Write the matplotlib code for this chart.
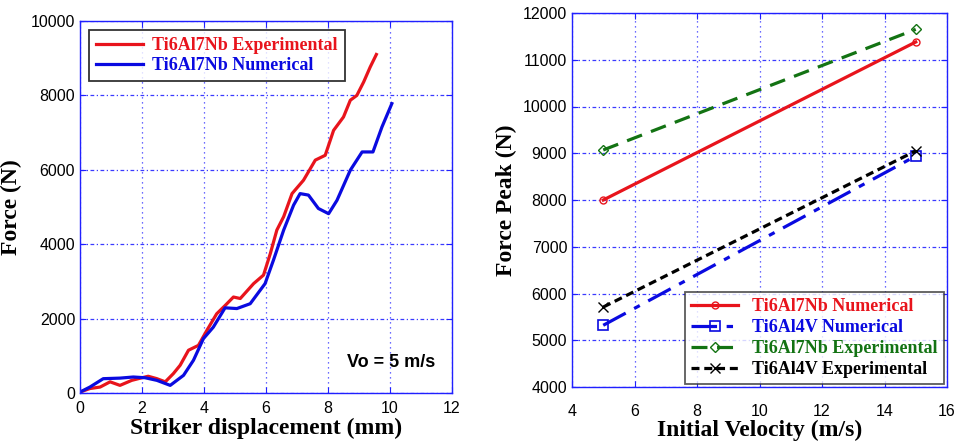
import numpy as np
import matplotlib.pyplot as plt

# left panel: force vs striker displacement (Vo = 5 m/s)
exp_x = [0, 0.32, 0.65, 0.97, 1.29, 1.67, 2.0, 2.2, 2.48, 2.75, 3.01, 3.23, 3.5, 3.82,
         4.09, 4.41, 4.68, 4.95, 5.17, 5.6, 5.92, 6.14, 6.35, 6.57, 6.84, 7.21, 7.59,
         7.91, 8.18, 8.5, 8.72, 8.93, 9.15, 9.36, 9.56]
exp_f = [25, 120, 160, 300, 205, 340, 410, 450, 385, 300, 520, 745, 1150, 1280,
         1680, 2130, 2350, 2580, 2540, 2940, 3170, 3750, 4380, 4740, 5360, 5720, 6260,
         6390, 7060, 7420, 7870, 8000, 8360, 8760, 9100]
num_x = [0, 0.32, 0.75, 1.29, 1.72, 2.1, 2.48, 2.91, 3.34, 3.66, 3.98, 4.3, 4.68, 5.06,
         5.49, 5.97, 6.24, 6.57, 6.89, 7.1, 7.37, 7.69, 8.02, 8.29, 8.72, 9.1, 9.45,
         9.74, 10.06]
num_f = [25, 160, 385, 400, 430, 410, 340, 205, 475, 880, 1460, 1770, 2290, 2270,
         2400, 2940, 3570, 4380, 5050, 5360, 5320, 4960, 4820, 5180, 5990, 6480, 6480,
         7150, 7780]

# right panel: peak force vs initial velocity
velocity = [5, 15]
al7nb_num = [8000, 11380]
al4v_num = [5320, 8940]
al7nb_exp = [9070, 11650]
al4v_exp = [5710, 9050]

serif = 'Liberation Serif'
sans = 'Liberation Sans'
gridc = '#3a3aff'

fig = plt.figure(figsize=(9.58, 4.46), dpi=100)
ax0 = fig.add_axes([80/958, 53/446, 372/958, 372/446])
ax1 = fig.add_axes([572/958, 59/446, 375/958, 374/446])


def style(ax, pad):
    for s in ax.spines.values():
        s.set_color('#2020ff')
        s.set_linewidth(1.0)
    ax.tick_params(direction='in', colors='#2020ff', labelcolor='black', length=4,
                   top=True, right=True)
    ax.tick_params(axis='x', pad=pad)
    for lab in ax.get_xticklabels() + ax.get_yticklabels():
        lab.set_fontfamily(sans)
        lab.set_fontsize(11.5)
    ax.xaxis.grid(True, color=gridc, linestyle=(0, (1, 3)), linewidth=0.9)
    ax.yaxis.grid(True, color=gridc, linestyle=(0, (3, 2, 1, 2)), linewidth=0.9)


ax0.plot(exp_x, exp_f, color='#e8141c', lw=2.3, label='Ti6Al7Nb Experimental')
ax0.plot(num_x, num_f, color='#0a0ae0', lw=2.3, label='Ti6Al7Nb Numerical')
ax0.set_xlim(0, 12)
ax0.set_ylim(0, 10000)
ax0.set_xticks(np.arange(0, 13, 2))
ax0.set_yticks(np.arange(0, 10001, 2000))
style(ax0, 6)
ax0.set_xlabel('Striker displacement (mm)', fontfamily=serif, fontweight='bold', fontsize=17, labelpad=1)
ax0.set_ylabel('Force (N)', fontfamily=serif, fontweight='bold', fontsize=17, labelpad=6)
ax0.text(8.6, 700, 'Vo = 5 m/s', fontfamily=sans, fontweight='bold', fontsize=13)
leg0 = ax0.legend(loc='upper left', prop={'family': serif, 'weight': 'bold', 'size': 13},
                  frameon=True, fancybox=False, edgecolor='black', handlelength=2.6,
                  borderaxespad=0.5, labelspacing=0.15, handletextpad=0.5)
leg0.get_frame().set_linewidth(1.3)
for t, c in zip(leg0.get_texts(), ['#e8141c', '#0a0ae0']):
    t.set_color(c)

ax1.plot(velocity, al7nb_num, color='#e8141c', lw=2.3, marker='o', mfc='none', ms=5,
         mew=1, label='Ti6Al7Nb Numerical')
ax1.plot(velocity, al4v_num, color='#0a0ae0', lw=2.3, marker='s', mfc='none', ms=7,
         mew=1.2, linestyle=(0, (8, 3, 2, 3)), label='Ti6Al4V Numerical')
ax1.plot(velocity, al7nb_exp, color='#137313', lw=2.3, marker='D', mfc='none', ms=5,
         mew=1, linestyle=(0, (5, 3)), label='Ti6Al7Nb Experimental')
ax1.plot(velocity, al4v_exp, color='black', lw=2.3, marker='x', ms=7,
         mew=1, linestyle=(0, (2.5, 1.5)), label='Ti6Al4V Experimental')
ax1.set_xlim(4, 16)
ax1.set_ylim(4000, 12000)
ax1.set_xticks(np.arange(4, 17, 2))
ax1.set_yticks(np.arange(4000, 12001, 1000))
style(ax1, 12)
ax1.set_xlabel('Initial Velocity (m/s)', fontfamily=serif, fontweight='bold', fontsize=17, labelpad=1)
ax1.set_ylabel('Force Peak (N)', fontfamily=serif, fontweight='bold', fontsize=17, labelpad=4)
leg1 = ax1.legend(loc='lower right', prop={'family': serif, 'weight': 'bold', 'size': 13},
                  frameon=True, fancybox=False, edgecolor='#333333', handlelength=2.6,
                  borderaxespad=0.15, labelspacing=0.22, handletextpad=0.8, borderpad=0.35)
leg1.get_frame().set_linewidth(1.3)
for t, c in zip(leg1.get_texts(), ['#e8141c', '#0a0ae0', '#137313', 'black']):
    t.set_color(c)

fig.savefig('out.png', dpi=100)
